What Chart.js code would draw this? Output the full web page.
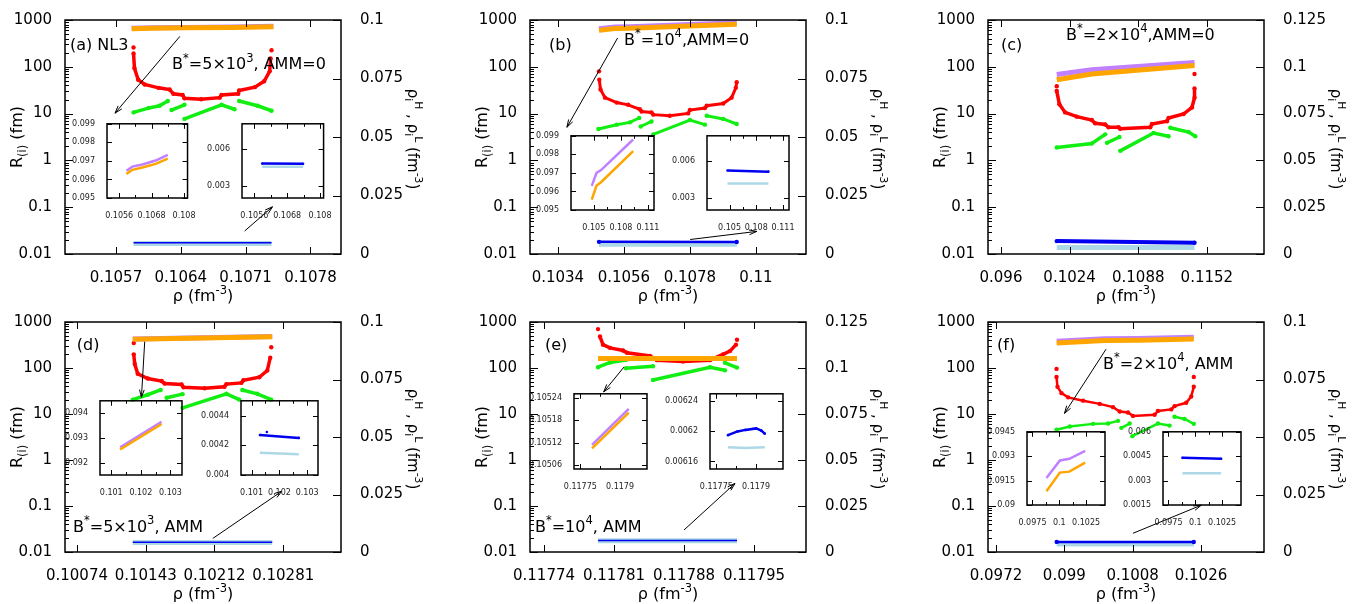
<!DOCTYPE html>
<html>
<head>
<meta charset="utf-8">
<script src="https://cdn.jsdelivr.net/npm/chart.js@4.4.0/dist/chart.umd.min.js"></script>
<style>
  html, body { margin: 0; padding: 0; background: #fff; }
  #fig { position: relative; width: 1356px; height: 604px; overflow: hidden; background: #fff; }
  canvas { position: absolute; }
</style>
</head>
<body>
<div id="fig"></div>
<script>
// ---- data: [rho, value] pairs, null breaks a curve ----
// (a) NL3, B*=5e3, AMM=0
const redA = [[0.10589,258],null,[0.10589,193],[0.10590,93],[0.10594,53],[0.10601,42],[0.10616,35.5],[0.10628,32.7],[0.10632,26.5],[0.10642,25],[0.10644,21.2],[0.10662,20.2],[0.10682,21.9],[0.10684,25],[0.10702,26.5],[0.10703,31.2],[0.10720,36.7],[0.10730,49],[0.10736,80],[0.10737,151],null,[0.10738,226]];
const greenA = [[0.10589,10.6],[0.10605,13.1],[0.10617,14.7],[0.10626,18.6],null,[0.10630,11.9],[0.10644,15.4],null,[0.10644,7.7],[0.10684,15.4],[0.10698,12.4],null,[0.10703,18.6],[0.10723,14.7],[0.10738,11.5]];
const purpleA = [[0.10587,0.09647],[0.10609,0.09669],[0.10646,0.09681],[0.10695,0.09702],[0.10740,0.09733]];
const orangeA = [[0.10587,0.0963],[0.10609,0.09652],[0.10646,0.09664],[0.10695,0.09684],[0.10740,0.09712]];
const blueA = [[0.10589,0.00478],[0.10738,0.00476]];
const lightA = [[0.10589,0.00452],[0.10738,0.00452]];

// (b) B*=1e4, AMM=0
const redB = [[0.10477,80],null,[0.10478,53],[0.10482,32.7],[0.10497,21.9],[0.10536,17.2],[0.10574,15.4],[0.10613,12.4],[0.10619,11.1],[0.10652,10.6],[0.10658,9.5],[0.10713,9.0],[0.10774,10.1],[0.10780,11.9],[0.10830,13.1],[0.10836,14.7],[0.10891,16.4],[0.10919,21.9],[0.10933,35.5],[0.10936,47]];
const greenB = [[0.10475,4.7],[0.10536,5.8],[0.10580,6.5],[0.10611,8.05],null,[0.10616,5.3],[0.10652,6.8],null,[0.10658,3.6],[0.10780,7.3],[0.10830,5.8],null,[0.10836,9.0],[0.10891,7.7],[0.10936,6.0]];
const purpleB = [[0.10477,0.0963],[0.10530,0.0970],[0.10580,0.09715],[0.10936,0.0988]];
const orangeB = [[0.10477,0.09556],[0.10530,0.09632],[0.10580,0.0965],[0.10936,0.09817]];
const blueB = [[0.10477,0.0052],[0.10936,0.0051]];
const lightB = [[0.10477,0.00415],[0.10936,0.00415]];

// (c) B*=2e4, AMM=0
const redC = [[0.1012,38.5],null,[0.1012,30.3],[0.10145,15.8],[0.10198,10.6],[0.10307,8.6],[0.10447,7.3],[0.10478,6.2],[0.10572,5.85],[0.10603,5.1],[0.10696,5.1],[0.10712,4.73],[0.10992,5.1],[0.11008,6.0],[0.11148,6.85],[0.11163,8.05],[0.11303,9.8],[0.11381,13.5],[0.11405,21.9],[0.11405,34.4],null,[0.11405,70]];
const greenC = [[0.1012,1.88],[0.10447,2.29],[0.10572,3.6],null,[0.10588,2.37],[0.10705,3.16],null,[0.10712,1.6],[0.11023,3.84],[0.11163,3.27],null,[0.11179,5.0],[0.1135,4.03],[0.11412,3.27]];
const purpleC = [[0.1012,0.0959],[0.10447,0.0984],[0.11405,0.1023]];
const orangeC = [[0.1012,0.0931],[0.10447,0.0961],[0.11405,0.1007]];
const blueC = [[0.1012,0.0069],[0.11405,0.0060]];
const lightC = [[0.1012,0.0035],[0.11405,0.0035]];

// (d) B*=5e3, AMM
const redD = [[0.10131,349],null,[0.10131,198],[0.10132,122],[0.10135,75],[0.10145,59],[0.10159,52],[0.10162,46],[0.10179,44],[0.10181,38],[0.10202,36.3],[0.10222,39],[0.10224,44.7],[0.10239,47.5],[0.10241,54],[0.10257,63],[0.10265,88],[0.10268,168],null,[0.10269,282]];
const greenD = [[0.10130,20.5],[0.10145,26.2],[0.10158,33.3],null,[0.10164,22.5],[0.10180,27],null,[0.10180,13.6],[0.10224,27.5],[0.10237,20.5],null,[0.10240,33.3],[0.10255,27.5],[0.10269,20.5]];
const purpleD = [[0.10130,0.09262],[0.10270,0.09365]];
const orangeD = [[0.10130,0.09253],[0.10270,0.09356]];
const blueD = [[0.10130,0.00427],[0.10270,0.00425],null,[0.10155,0.00429]];
const lightD = [[0.10130,0.00415],[0.10270,0.00414]];

// (e) B*=1e4, AMM
const redE = [[0.117794,701],null,[0.117796,483],[0.117799,322],[0.117806,274],[0.117819,241],[0.117823,214],[0.117846,183],[0.117853,148],[0.117879,139],[0.117906,148],[0.117919,198],[0.117926,233],[0.117932,322],null,[0.117933,410]];
const greenE = [[0.117794,104],[0.117806,132],[0.117822,150],null,[0.117822,99],[0.117849,109],null,[0.117849,55],[0.117906,104],[0.117921,89],null,[0.117921,130],[0.117933,102]];
const purpleE = [[0.117794,0.105114],[0.117933,0.10521]];
const orangeE = [[0.117794,0.105105],[0.117933,0.1052]];
const blueE = [[0.117794,0.006195],[0.11783,0.0062],[0.11786,0.006202],[0.11790,0.006204],[0.11792,0.006201],[0.117933,0.006197]];
const lightE = [[0.117794,0.006179],[0.11786,0.006178],[0.117933,0.006179]];

// (f) B*=2e4, AMM
const redF = [[0.098795,95.7],null,[0.098795,63.7],[0.09882,39],[0.098927,28.4],[0.0991,23],[0.099494,19.5],[0.099933,16.6],[0.100283,14.1],[0.10046,11.3],[0.100677,10.8],[0.100808,9.1],[0.101379,9.6],[0.101466,11.6],[0.101817,12.6],[0.101904,14.8],[0.102211,17.5],[0.102343,24.1],[0.102411,39],null,[0.102411,63.7]];
const greenF = [[0.098795,4.55],[0.099145,5.35],[0.099757,6.1],[0.100151,6.2],[0.100414,7.1],null,[0.100503,5.0],[0.100721,6.2],null,[0.100792,3.3],[0.101466,6.2],[0.101773,5.6],null,[0.101904,8.7],[0.102167,7.8],[0.102411,6.1]];
const purpleF = [[0.0988,0.09166],[0.10006,0.09274],[0.10094,0.09284],[0.10241,0.09333]];
const orangeF = [[0.0988,0.09084],[0.10006,0.09199],[0.10094,0.09205],[0.10241,0.0926]];
const blueF = [[0.0988,0.0044],[0.10241,0.00434]];
const lightF = [[0.0988,0.00345],[0.10241,0.00345]];

// ---- tick values ----
const yLogTicks = [0.01, 0.1, 1, 10, 100, 1000];
const y2Ticks100 = [0, 0.025, 0.05, 0.075, 0.1];
const y2Ticks125 = [0, 0.025, 0.05, 0.075, 0.1, 0.125];
const xTicksA = [0.1057, 0.1064, 0.1071, 0.1078];
const xTicksB = [0.1034, 0.1056, 0.1078, 0.11];
const xTicksC = [0.096, 0.1024, 0.1088, 0.1152];
const xTicksD = [0.10074, 0.10143, 0.10212, 0.10281];
const xTicksE = [0.11774, 0.11781, 0.11788, 0.11795];
const xTicksF = [0.0972, 0.099, 0.1008, 0.1026];
const insetTicksHiAB = [0.095, 0.096, 0.097, 0.098, 0.099];
const insetTicksLoAB = [0.003, 0.006];

Chart.defaults.font.family = '"DejaVu Sans", sans-serif';
Chart.defaults.color = '#000';

const COL = { red: '#ff0000', green: '#11ee11', purple: '#c080ff', orange: '#ffa500', blue: '#0000f0', light: '#add8e6' };
const fig = document.getElementById('fig');

// gnuplot-like enhanced text: ^{sup} and _{sub}
function parseRich(s) {
  const out = [];
  let i = 0;
  while (i < s.length) {
    if ((s[i] === '^' || s[i] === '_') && s[i + 1] === '{') {
      const j = s.indexOf('}', i);
      out.push({ t: s.slice(i + 2, j), m: s[i] === '^' ? 1 : -1 });
      i = j + 1;
    } else {
      let j = i;
      while (j < s.length && !((s[j] === '^' || s[j] === '_') && s[j + 1] === '{')) j++;
      out.push({ t: s.slice(i, j), m: 0 });
      i = j;
    }
  }
  return out;
}

function drawRich(ctx, s, x, y, size, align) {
  const parts = parseRich(s);
  const fontOf = m => (m ? size * 0.72 : size) + 'px "DejaVu Sans"';
  let w = 0;
  parts.forEach(p => { ctx.font = fontOf(p.m); p.w = ctx.measureText(p.t).width; w += p.w; });
  let cx = align === 'center' ? x - w / 2 : x;
  ctx.textAlign = 'left';
  ctx.textBaseline = 'middle';
  parts.forEach(p => {
    ctx.font = fontOf(p.m);
    const dy = p.m === 1 ? -size * 0.4 : p.m === -1 ? size * 0.3 : 0;
    ctx.fillText(p.t, cx, y + dy);
    cx += p.w;
  });
}

function toPts(arr) {
  return arr.map(p => p ? { x: p[0], y: p[1] } : { x: null, y: null });
}

function ds(arr, axis, color, width, radius) {
  return {
    data: toPts(arr), yAxisID: axis, showLine: true,
    borderColor: color, backgroundColor: color,
    borderWidth: width, pointRadius: radius, pointBorderWidth: 0,
    pointHoverRadius: 0, fill: false, tension: 0, spanGaps: false
  };
}

function makeCanvas(l, t, w, h) {
  const c = document.createElement('canvas');
  c.width = w; c.height = h;
  c.style.left = l + 'px'; c.style.top = t + 'px';
  c.style.width = w + 'px'; c.style.height = h + 'px';
  fig.appendChild(c);
  return c;
}

function fixedTicks(list) {
  return s => { s.ticks = list.map(v => ({ value: v })); };
}

function arrow(ctx, x1, y1, x2, y2) {
  const ang = Math.atan2(y2 - y1, x2 - x1);
  const L = 8, sp = 0.3;
  ctx.beginPath();
  ctx.moveTo(x1, y1); ctx.lineTo(x2, y2);
  ctx.moveTo(x2 - L * Math.cos(ang - sp), y2 - L * Math.sin(ang - sp));
  ctx.lineTo(x2, y2);
  ctx.lineTo(x2 - L * Math.cos(ang + sp), y2 - L * Math.sin(ang + sp));
  ctx.stroke();
}

// ---- main panels ----
function mainChart(p) {
  const W = 452, H = p.row === 0 ? 312 : 302;
  const [aL, aT, aR, aB] = p.area;
  const cv = makeCanvas(p.pos[0], p.pos[1], W, H);
  const d = p.data;

  const decor = {
    id: 'decor',
    afterDraw(chart) {
      const { ctx, chartArea: a, scales } = chart;
      const x = scales.x, y = scales.y, y2 = scales.y2;
      ctx.save();
      ctx.strokeStyle = '#000';
      ctx.lineWidth = 1;
      ctx.beginPath();
      p.xTicks.forEach(v => {
        const px = Math.round(x.getPixelForValue(v)) + 0.5;
        ctx.moveTo(px, a.bottom); ctx.lineTo(px, a.bottom - 7);
        ctx.moveTo(px, a.top); ctx.lineTo(px, a.top + 7);
      });
      yLogTicks.forEach((dv, i) => {
        for (let m = 1; m <= 9; m++) {
          if (m > 1 && i === yLogTicks.length - 1) break;
          const py = Math.round(y.getPixelForValue(dv * m)) + 0.5;
          ctx.moveTo(a.left, py); ctx.lineTo(a.left + (m === 1 ? 8 : 4), py);
        }
      });
      p.y2Ticks.forEach(v => {
        const py = Math.round(y2.getPixelForValue(v)) + 0.5;
        ctx.moveTo(a.right, py); ctx.lineTo(a.right - 8, py);
      });
      ctx.stroke();
      ctx.lineWidth = 1.5;
      ctx.strokeRect(a.left, a.top, a.right - a.left, a.bottom - a.top);

      ctx.fillStyle = '#000';
      ctx.save();
      ctx.translate(a.left - 47, (a.top + a.bottom) / 2);
      ctx.rotate(-Math.PI / 2);
      drawRich(ctx, 'R_{(i)} (fm)', 0, 0, 16, 'center');
      ctx.restore();
      ctx.save();
      ctx.translate(a.right + 71, (a.top + a.bottom) / 2 + 2);
      ctx.rotate(Math.PI / 2);
      drawRich(ctx, 'ρ_{i}^{H} , ρ_{i}^{L} (fm^{-3})', 0, 0, 15, 'center');
      ctx.restore();
      drawRich(ctx, 'ρ (fm^{-3})', (a.left + a.right) / 2, a.bottom + 43, 16, 'center');

      p.texts.forEach(t => {
        drawRich(ctx, t[0], a.left + t[1] * (a.right - a.left), a.top + t[2] * (a.bottom - a.top), 16, 'left');
      });

      ctx.lineWidth = 1;
      p.arrows.forEach(r => {
        arrow(ctx, x.getPixelForValue(r[0]), y.getPixelForValue(r[1]),
                   x.getPixelForValue(r[2]), y.getPixelForValue(r[3]));
      });
      ctx.restore();
    }
  };

  const tickFont = { size: 15 };
  new Chart(cv, {
    type: 'scatter',
    data: {
      datasets: [
        ds(d.orange, 'y2', COL.orange, 5, 0),
        ds(d.purple, 'y2', COL.purple, 5, 0),
        ds(d.blue, 'y2', COL.blue, p.blueW, p.blueDots ? 2.2 : 0),
        ds(d.light, 'y2', COL.light, 5, 0),
        ds(d.red, 'y', COL.red, p.dotW, 2.2),
        ds(d.green, 'y', COL.green, p.dotW, 2.2)
      ]
    },
    options: {
      responsive: false, animation: false, events: [],
      layout: { padding: { top: aT, left: 0, right: 0, bottom: 0 } },
      plugins: { legend: { display: false }, tooltip: { enabled: false } },
      scales: {
        x: {
          type: 'linear', position: 'bottom', min: p.xRange[0], max: p.xRange[1],
          afterBuildTicks: fixedTicks(p.xTicks),
          afterFit: s => { s.height = H - aB; },
          ticks: { autoSkip: false, maxRotation: 0, padding: 7, font: tickFont, callback: v => String(v) },
          grid: { display: false }, border: { display: false }
        },
        y: {
          type: 'logarithmic', position: 'left', min: 0.01, max: 1000,
          afterBuildTicks: fixedTicks(yLogTicks),
          afterFit: s => { s.width = aL; },
          ticks: { autoSkip: false, padding: 5, font: tickFont, callback: v => String(v) },
          grid: { display: false }, border: { display: false }
        },
        y2: {
          type: 'linear', position: 'right', min: 0, max: p.y2Max,
          afterBuildTicks: fixedTicks(p.y2Ticks),
          afterFit: s => { s.width = W - aR; },
          ticks: { autoSkip: false, padding: 11, font: tickFont, callback: v => String(v) },
          grid: { display: false }, border: { display: false }
        }
      }
    },
    plugins: [decor]
  });
}

// ---- insets ----
function insetChart(ins, p) {
  const [l, t, r, b] = ins.rect;
  const w = r - l, h = b - t;
  const ML = 52, MT = 6, MR = 12, MB = 24;
  const cw = w + ML + MR, ch = h + MT + MB;
  const cv = makeCanvas(l - ML, t - MT, cw, ch);
  const d = p.data;
  const sets = ins.kind === 'hi'
    ? [ds(d.orange, 'y', COL.orange, 2.5, 0), ds(d.purple, 'y', COL.purple, 2.5, 0)]
    : [ds(d.blue, 'y', COL.blue, 2.5, 1.3), ds(d.light, 'y', COL.light, 2.5, 0)];

  const decor = {
    id: 'decor',
    afterDraw(chart) {
      const { ctx, chartArea: a, scales: { x, y } } = chart;
      ctx.save();
      ctx.strokeStyle = '#000';
      ctx.lineWidth = 1;
      ctx.beginPath();
      p.insetX.forEach((v, i) => {
        const px = Math.round(x.getPixelForValue(v)) + 0.5;
        ctx.moveTo(px, a.bottom); ctx.lineTo(px, a.bottom - 5);
        ctx.moveTo(px, a.top); ctx.lineTo(px, a.top + 5);
        if (i < p.insetX.length - 1) {
          const mx = Math.round(x.getPixelForValue((v + p.insetX[i + 1]) / 2)) + 0.5;
          ctx.moveTo(mx, a.bottom); ctx.lineTo(mx, a.bottom - 3);
          ctx.moveTo(mx, a.top); ctx.lineTo(mx, a.top + 3);
        }
      });
      ins.yTicks.forEach(v => {
        const py = Math.round(y.getPixelForValue(v)) + 0.5;
        ctx.moveTo(a.left, py); ctx.lineTo(a.left + 5, py);
        ctx.moveTo(a.right, py); ctx.lineTo(a.right - 5, py);
      });
      ctx.stroke();
      ctx.lineWidth = 1.5;
      ctx.strokeRect(a.left, a.top, a.right - a.left, a.bottom - a.top);
      ctx.restore();
    }
  };

  const f = { size: 8 };
  new Chart(cv, {
    type: 'scatter',
    data: { datasets: sets },
    options: {
      responsive: false, animation: false, events: [],
      layout: { padding: { top: MT, right: MR, left: 0, bottom: 0 } },
      plugins: { legend: { display: false }, tooltip: { enabled: false } },
      scales: {
        x: {
          type: 'linear', min: p.xRange[0], max: p.xRange[1],
          afterBuildTicks: fixedTicks(p.insetX),
          afterFit: s => { s.height = MB; },
          ticks: { autoSkip: false, maxRotation: 0, padding: 5, font: f, color: '#222', callback: v => String(v) },
          grid: { display: false }, border: { display: false }
        },
        y: {
          type: 'linear', min: ins.yRange[0], max: ins.yRange[1],
          afterBuildTicks: fixedTicks(ins.yTicks),
          afterFit: s => { s.width = ML; },
          ticks: { autoSkip: false, padding: 4, font: f, color: '#222', callback: v => String(v) },
          grid: { display: false }, border: { display: false }
        }
      }
    },
    plugins: [decor]
  });
}

const panels = [
  { row: 0, pos: [0, 0], area: [65, 16, 341, 254], xRange: [0.10515, 0.10813], xTicks: xTicksA,
    y2Max: 0.1, y2Ticks: y2Ticks100, dotW: 3.5, blueDots: false, blueW: 1.5,
    data: { red: redA, green: greenA, purple: purpleA, orange: orangeA, blue: blueA, light: lightA },
    texts: [['(a) NL3', 0.018, 0.109], ['B^{*}=5×10^{3}, AMM=0', 0.388, 0.193]],
    arrows: [[0.10639, 446, 0.10569, 10.2], [0.10709, 0.031, 0.10739, 0.102]],
    insetX: [0.1056, 0.1068, 0.108],
    insets: [
      { kind: 'hi', rect: [107, 121, 189, 198], yRange: [0.095, 0.099], yTicks: insetTicksHiAB },
      { kind: 'lo', rect: [242, 121, 325, 198], yRange: [0.002, 0.008], yTicks: insetTicksLoAB }
    ] },
  { row: 0, pos: [452, 0], area: [78, 16, 354, 254], xRange: [0.10247, 0.11167], xTicks: xTicksB,
    y2Max: 0.1, y2Ticks: y2Ticks100, dotW: 3, blueDots: true, blueW: 2.5,
    data: { red: redB, green: greenB, purple: purpleB, orange: orangeB, blue: blueB, light: lightB },
    texts: [['(b)', 0.069, 0.109], ['B^{*}=10^{4},AMM=0', 0.341, 0.088]],
    arrows: [[0.10539, 413, 0.1037, 5.1], [0.10781, 0.0204, 0.11003, 0.0304]],
    insetX: [0.105, 0.108, 0.111],
    insets: [
      { kind: 'hi', rect: [571, 133, 654, 210], yRange: [0.095, 0.099], yTicks: insetTicksHiAB },
      { kind: 'lo', rect: [707, 133, 789, 210], yRange: [0.002, 0.008], yTicks: insetTicksLoAB }
    ] },
  { row: 0, pos: [904, 0], area: [84, 16, 360, 254], xRange: [0.09479, 0.12053], xTicks: xTicksC,
    y2Max: 0.125, y2Ticks: y2Ticks125, dotW: 3.5, blueDots: true, blueW: 4,
    data: { red: redC, green: greenC, purple: purpleC, orange: orangeC, blue: blueC, light: lightC },
    texts: [['(c)', 0.047, 0.109], ['B^{*}=2×10^{4},AMM=0', 0.283, 0.067]],
    arrows: [], insetX: [], insets: [] },
  { row: 1, pos: [0, 302], area: [65, 13, 341, 250], xRange: [0.10062, 0.10339], xTicks: xTicksD,
    y2Max: 0.1, y2Ticks: y2Ticks100, dotW: 3.5, blueDots: false, blueW: 1.5,
    data: { red: redD, green: greenD, purple: purpleD, orange: orangeD, blue: blueD, light: lightD },
    texts: [['(d)', 0.043, 0.105], ['B^{*}=5×10^{3}, AMM', 0.029, 0.895]],
    arrows: [[0.10142, 373, 0.101387, 23], [0.102103, 0.0197, 0.102797, 0.21]],
    insetX: [0.101, 0.102, 0.103],
    insets: [
      { kind: 'hi', rect: [100, 398, 182, 475], yRange: [0.0915, 0.0945], yTicks: [0.092, 0.093, 0.094] },
      { kind: 'lo', rect: [241, 398, 318, 475], yRange: [0.004, 0.0045], yTicks: [0.004, 0.0042, 0.0044] }
    ] },
  { row: 1, pos: [452, 302], area: [78, 13, 354, 250], xRange: [0.117726, 0.118002], xTicks: xTicksE,
    y2Max: 0.125, y2Ticks: y2Ticks125, dotW: 3.5, blueDots: false, blueW: 1.5,
    data: { red: redE, green: greenE, purple: purpleE, orange: orangeE, blue: blueE, light: lightE },
    texts: [['(e)', 0.054, 0.105], ['B^{*}=10^{4}, AMM', 0.018, 0.895]],
    arrows: [[0.11782, 105, 0.1177997, 30.3], [0.11788, 0.0301, 0.117931, 0.31]],
    insetX: [0.11775, 0.1179],
    insets: [
      { kind: 'hi', rect: [574, 391, 647, 469], yRange: [0.10505, 0.10525], yTicks: [0.10506, 0.10512, 0.10518, 0.10524] },
      { kind: 'lo', rect: [710, 391, 783, 469], yRange: [0.00615, 0.00625], yTicks: [0.00616, 0.0062, 0.00624] }
    ] },
  { row: 1, pos: [904, 302], area: [84, 13, 360, 250], xRange: [0.09699, 0.10426], xTicks: xTicksF,
    y2Max: 0.1, y2Ticks: y2Ticks100, dotW: 2.5, blueDots: true, blueW: 2.5,
    data: { red: redF, green: greenF, purple: purpleF, orange: orangeF, blue: blueF, light: lightF },
    texts: [['(f)', 0.033, 0.105], ['B^{*}=2×10^{4}, AMM', 0.417, 0.186]],
    arrows: [[0.1001, 257, 0.099005, 10.3], [0.100808, 0.0255, 0.102606, 0.104]],
    insetX: [0.0975, 0.1, 0.1025],
    insets: [
      { kind: 'hi', rect: [1027, 429, 1105, 505], yRange: [0.09, 0.0945], yTicks: [0.09, 0.0915, 0.093, 0.0945] },
      { kind: 'lo', rect: [1163, 429, 1241, 505], yRange: [0.0015, 0.006], yTicks: [0.0015, 0.003, 0.0045, 0.006] }
    ] }
];

panels.forEach(p => mainChart(p));
panels.forEach(p => p.insets.forEach(ins => insetChart(ins, p)));
</script>
</body>
</html>
